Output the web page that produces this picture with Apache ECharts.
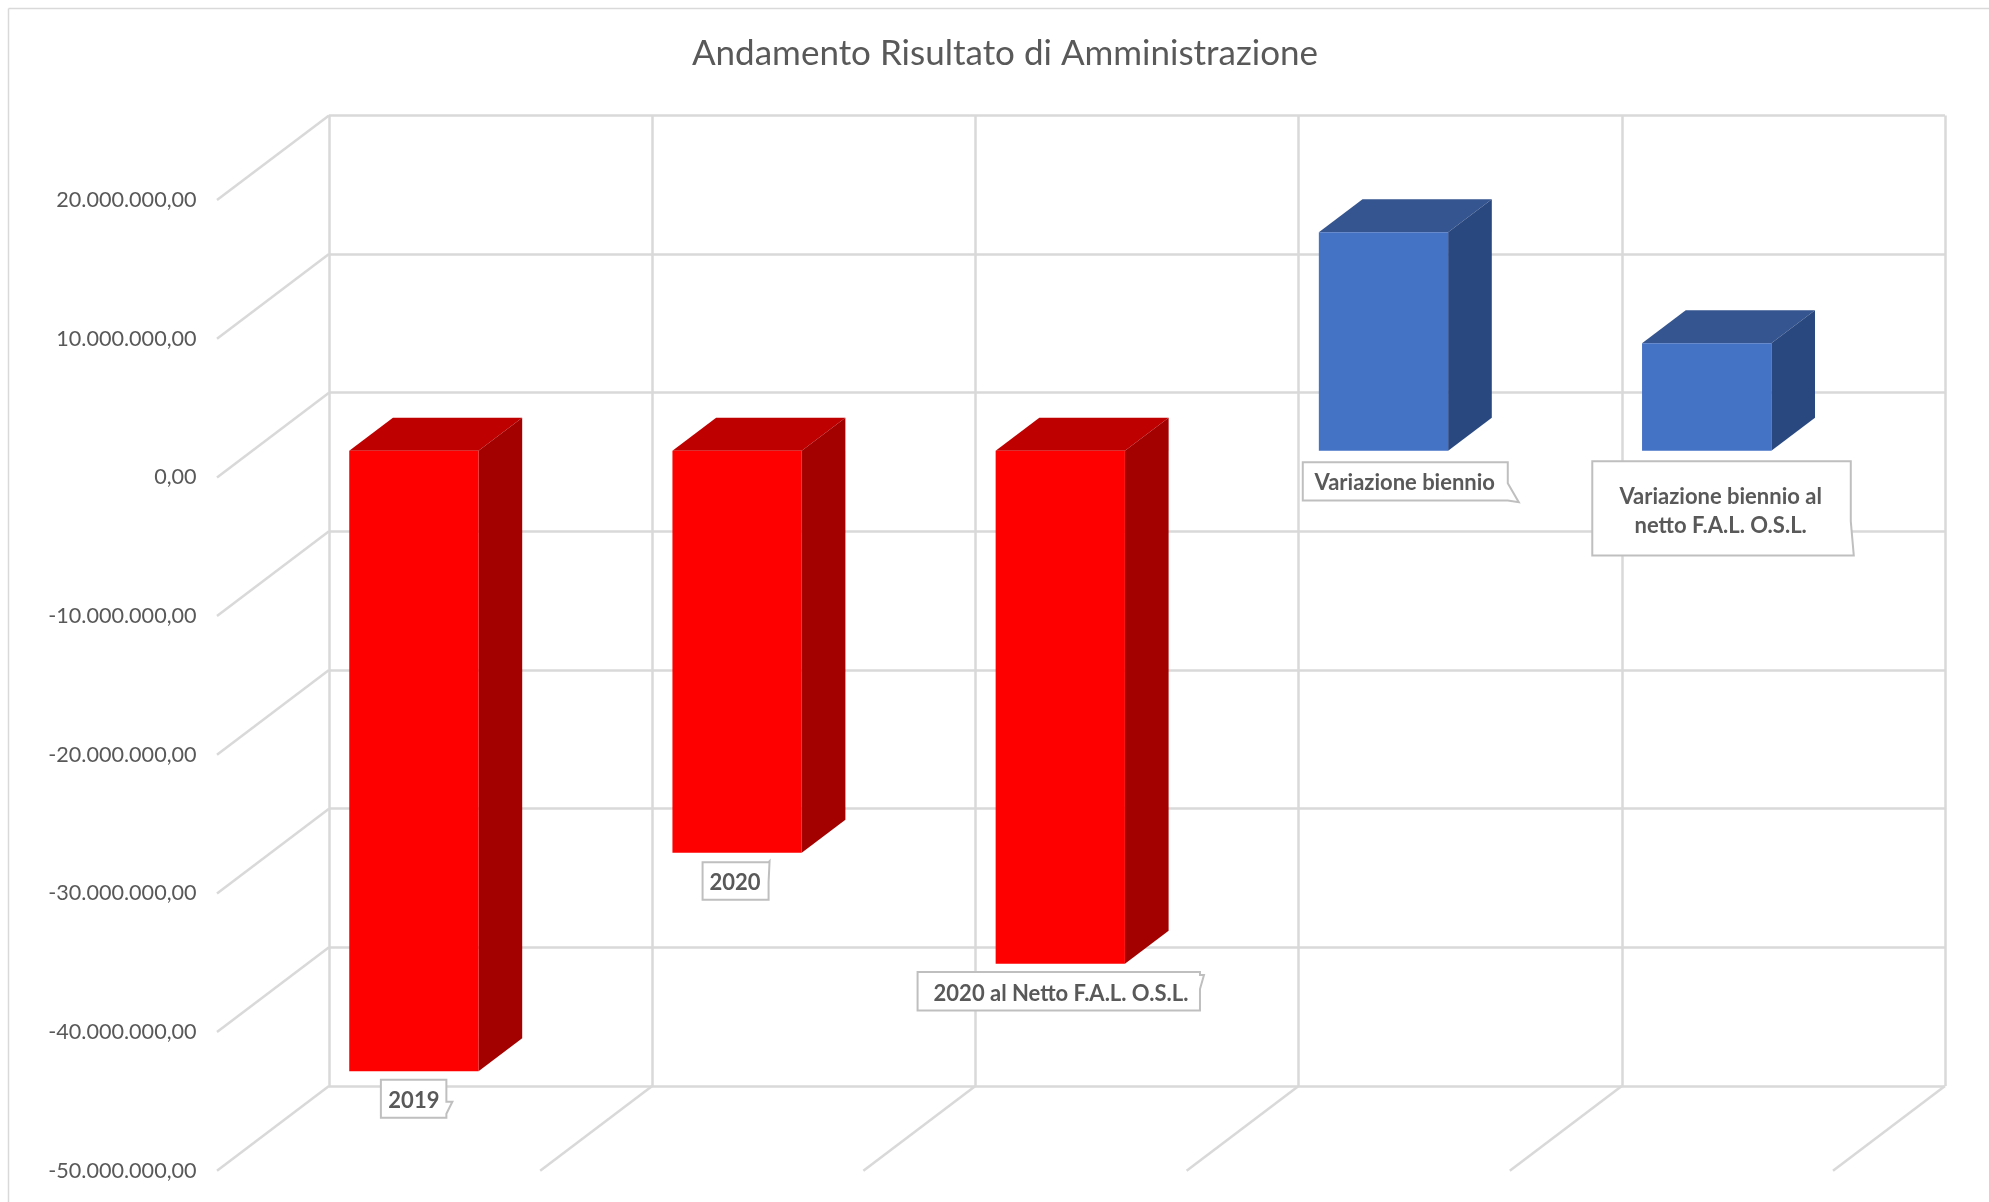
<!DOCTYPE html>
<html>
<head>
<meta charset="utf-8">
<style>
  html, body { margin: 0; padding: 0; background: #fff; }
  #chart { width: 1989px; height: 1202px; }
</style>
</head>
<body>
<div id="chart"></div>
<script src="https://cdn.jsdelivr.net/npm/echarts@6/dist/echarts.min.js"></script>
<script>
const categories = ['2019', '2020', '2020 al Netto F.A.L. O.S.L.', 'Variazione biennio', 'Variazione biennio al\nnetto F.A.L. O.S.L.']
const values = [-44750000, -29000000, -37000000, 15750000, 7750000]
const yTicks = [-50000000, -40000000, -30000000, -20000000, -10000000, 0, 10000000, 20000000]

// callout layout, relative to the bottom centre of each bar's front face
const calloutLayout = [
  { x: -33, y: 8.5, w: 65.5, h: 38, tx: 0, ty: 30, tail: [[65.5, 22], [71.5, 22], [65.5, 34]] },
  { x: -34.5, y: 9.3, w: 66, h: 37.6, tx: -2, ty: 30, tail: [[66, 0], [67, -1], [66, 20]] },
  { x: -142.7, y: 8.3, w: 282.4, h: 38.4, tx: 0.7, ty: 30, tail: [[282.4, 3], [286.4, 3], [282.4, 17]] },
  { x: -80.7, y: 11.4, w: 205, h: 38.3, tx: 21.3, ty: 31.7, tail: [[205, 21], [216, 40], [205, 38.3]] },
  { x: -114.4, y: 10.4, w: 258.5, h: 94.3, tx: 14, ty: 60.2, tail: [[258.5, 60], [261.5, 94.3], [258.5, 94.3]] }
]

const depthX = -112 // wall to front edge of the floor
const depthY = 84.7
const barNear = 0.685 // depth of the bar's front face
const barFar = 0.295 // depth of the bar's back face
const barShare = 0.4 // bar width / category width

const lineColor = '#d9d9d9'
const textColor = '#595959'
const faces = {
  neg: { front: '#ff0000', top: '#bf0000', side: '#a30000' },
  pos: { front: '#4472c4', top: '#34558f', side: '#2a4880' }
}

const project = (pt, t) => [pt[0] + depthX * t, pt[1] + depthY * t]

function renderWallDiagonal(params, api) {
  const band = api.size([1, 0])[0]
  const p = api.coord([0, api.value(1)])
  const from = [p[0] - band / 2, p[1]]
  const to = project(from, 1)
  return {
    type: 'line',
    shape: { x1: from[0], y1: from[1], x2: to[0], y2: to[1] },
    style: { stroke: lineColor, lineWidth: 2.5 }
  }
}

function renderFloorDiagonal(params, api) {
  const band = api.size([1, 0])[0]
  const p = api.coord([api.value(0), api.value(1)])
  const from = [p[0] + band / 2, p[1]]
  const to = project(from, 1)
  return {
    type: 'line',
    shape: { x1: from[0], y1: from[1], x2: to[0], y2: to[1] },
    style: { stroke: lineColor, lineWidth: 2.5 }
  }
}

function renderBar(params, api) {
  const i = api.value(0)
  const v = api.value(1)
  const band = api.size([1, 0])[0]
  const w = band * barShare
  const valuePt = api.coord([i, v])
  const zeroPt = api.coord([i, 0])
  const up = Math.min(valuePt[1], zeroPt[1])
  const down = Math.max(valuePt[1], zeroPt[1])
  const left = zeroPt[0] - w / 2
  const right = zeroPt[0] + w / 2
  const c = v < 0 ? faces.neg : faces.pos
  const poly = (points, fill) => ({ type: 'polygon', shape: { points }, style: { fill } })
  const nTL = project([left, up], barNear)
  const nTR = project([right, up], barNear)
  const nBR = project([right, down], barNear)
  const nBL = project([left, down], barNear)
  const fTL = project([left, up], barFar)
  const fTR = project([right, up], barFar)
  const fBR = project([right, down], barFar)
  return {
    type: 'group',
    children: [
      poly([nTL, nTR, fTR, fTL], c.top),
      poly([nTR, fTR, fBR, nBR], c.side),
      poly([nTL, nTR, nBR, nBL], c.front)
    ]
  }
}

function renderCallout(params, api) {
  const i = api.value(0)
  const v = api.value(1)
  const anchor = project(api.coord([i, Math.min(v, 0)]), barNear)
  const l = calloutLayout[i]
  const ox = anchor[0] + l.x
  const oy = anchor[1] + l.y
  const points = [[ox, oy], [ox + l.w, oy]]
  l.tail.forEach(t => points.push([ox + t[0], oy + t[1]]))
  points.push([ox + l.w, oy + l.h], [ox, oy + l.h])
  return {
    type: 'group',
    children: [
      {
        type: 'polygon',
        shape: { points },
        style: { fill: '#fff', stroke: '#bfbfbf', lineWidth: 2 }
      },
      {
        type: 'text',
        style: {
          x: anchor[0] + l.tx,
          y: anchor[1] + l.ty,
          text: categories[i],
          fill: textColor,
          font: 'bold 22px Lato',
          lineHeight: 29,
          align: 'center',
          verticalAlign: 'middle'
        }
      }
    ]
  }
}

const chart = echarts.init(document.getElementById('chart'), null, { renderer: 'canvas' })
const barData = values.map((v, i) => [i, v])

chart.setOption({
  animation: false,
  backgroundColor: '#fff',
  textStyle: { fontFamily: 'Lato' },
  title: {
    text: 'Andamento Risultato di Amministrazione',
    left: 1000,
    top: 31,
    textAlign: 'center',
    textStyle: { fontFamily: 'Lato', fontSize: 35, fontWeight: 'normal', color: textColor }
  },
  graphic: [
    { type: 'line', shape: { x1: 8.5, y1: 8.5, x2: 1989, y2: 8.5 }, style: { stroke: lineColor, lineWidth: 1.5 } },
    { type: 'line', shape: { x1: 8.5, y1: 8.5, x2: 8.5, y2: 1202 }, style: { stroke: lineColor, lineWidth: 1.5 } }
  ],
  grid: [
    { left: 329, top: 115.4, width: 1616, height: 970.6 }, // back wall
    { left: 217, top: 200.1, width: 1616, height: 970.6 } // front edge, only carries the labels
  ],
  xAxis: [
    {
      type: 'category',
      gridIndex: 0,
      data: categories,
      axisLine: { show: false },
      axisTick: { show: false },
      axisLabel: { show: false },
      splitLine: { show: true, lineStyle: { color: lineColor, width: 2.5 } }
    },
    { type: 'category', gridIndex: 1, data: categories, show: false }
  ],
  yAxis: [
    {
      type: 'value',
      gridIndex: 0,
      min: yTicks[0],
      max: yTicks[yTicks.length - 1],
      interval: 10000000,
      axisLine: { show: false },
      axisTick: { show: false },
      axisLabel: { show: false },
      splitLine: { show: true, lineStyle: { color: lineColor, width: 2.5 } }
    },
    {
      type: 'value',
      gridIndex: 1,
      min: yTicks[0],
      max: yTicks[yTicks.length - 1],
      interval: 10000000,
      axisLine: { show: false },
      axisTick: { show: false },
      splitLine: { show: false },
      axisLabel: {
        margin: 20.4,
        color: textColor,
        fontFamily: 'Lato',
        fontSize: 21.6,
        formatter: v => v.toLocaleString('it-IT', { minimumFractionDigits: 2, maximumFractionDigits: 2 })
      }
    }
  ],
  series: [
    {
      type: 'custom',
      xAxisIndex: 0,
      yAxisIndex: 0,
      clip: false,
      z: 1,
      data: yTicks.map(t => [0, t]),
      renderItem: renderWallDiagonal
    },
    {
      type: 'custom',
      xAxisIndex: 0,
      yAxisIndex: 0,
      clip: false,
      z: 1,
      data: categories.map((c, i) => [i, yTicks[0]]),
      renderItem: renderFloorDiagonal
    },
    {
      type: 'custom',
      xAxisIndex: 0,
      yAxisIndex: 0,
      clip: false,
      z: 2,
      data: barData,
      renderItem: renderBar
    },
    {
      type: 'custom',
      xAxisIndex: 0,
      yAxisIndex: 0,
      clip: false,
      z: 3,
      data: barData,
      renderItem: renderCallout
    }
  ]
})
</script>
</body>
</html>
